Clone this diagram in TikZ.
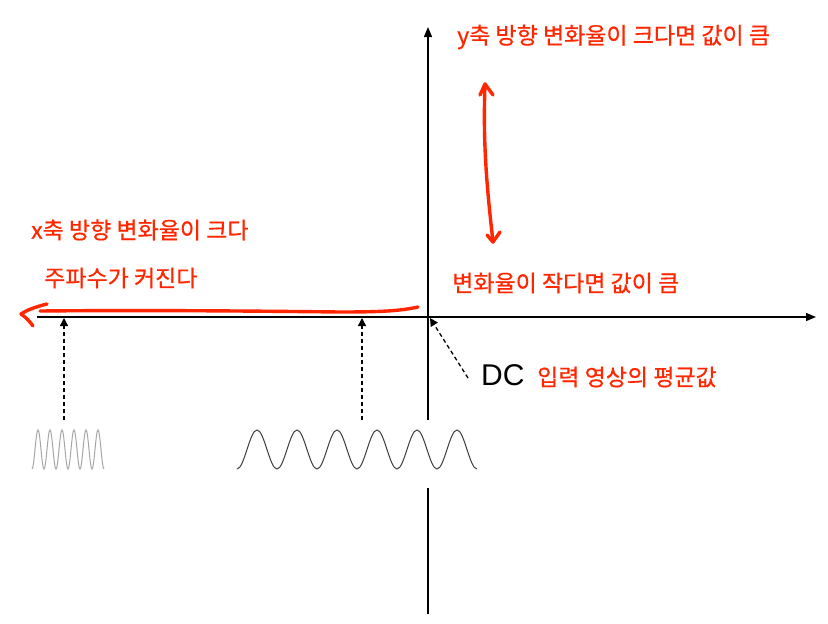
\documentclass[tikz,border=0pt]{standalone}
\usepackage{fontspec}
\newfontfamily\kr[FakeBold=0.6]{Noto Sans CJK KR}
\newfontfamily\dcfont{Liberation Sans}
\usetikzlibrary{arrows.meta}
\definecolor{hand}{RGB}{255,38,0}
\tikzset{
  lbl/.style={font=\kr\fontsize{23}{26}\selectfont, text=hand, inner sep=0pt, anchor=west},
  axis/.style={line width=1.4pt, black},
  axisarrow/.style={-{Triangle[length=10pt,width=8pt]}},
  dasharrow/.style={line width=1.3pt, dash pattern=on 4pt off 3pt, -{Triangle[length=8pt,width=8pt]}},
  redstroke/.style={line width=3.4pt, hand, line cap=round, line join=round},
  wave/.style={line width=1pt}
}
\begin{document}
\begin{tikzpicture}[x=1pt,y=-1pt]
\useasboundingbox (0,0) rectangle (828,624);
\fill[white] (0,0) rectangle (828,624);
% coordinates
\coordinate (O) at (428,317);
\coordinate (xstart) at (37,317);
\coordinate (xend) at (816,317);
\coordinate (ybot) at (428,614);
\coordinate (ygapb) at (428,488);
\coordinate (ygapt) at (428,420);
\coordinate (ytop) at (428,27);
% axes
\draw[axis] (xstart) -- (O);
\draw[axis,axisarrow] (O) -- (xend);
\draw[axis] (ybot) -- (ygapb);
\draw[axis,axisarrow] (ygapt) -- (ytop);
% waves
\coordinate (w1) at (32,469);
\coordinate (w2) at (237,469);
\draw[wave, black!35] (w1) \foreach \i in {1,...,6} { cos ++(3,-19.5) sin ++(3,-19.5) cos ++(3,19.5) sin ++(3,19.5) };
\draw[wave, black!75] (w2) \foreach \i in {1,...,6} { cos ++(10,-19.5) sin ++(10,-19.5) cos ++(10,19.5) sin ++(10,19.5) };
% dashed arrows
\coordinate (a1s) at (64,420);
\coordinate (a1e) at (64,318);
\coordinate (a2s) at (362,420);
\coordinate (a2e) at (362,318);
\coordinate (dcs) at (468,378);
\coordinate (dce) at (430,318);
\draw[dasharrow] (a1s) -- (a1e);
\draw[dasharrow] (a2s) -- (a2e);
\draw[dasharrow] (dcs) -- (dce);
% red hand-drawn strokes
\coordinate (rl0) at (40,311);
\coordinate (rltip) at (21,314);
\coordinate (rlend) at (418,307);
\draw[redstroke] (rlend) .. controls (400,311) and (380,312) .. (340,312)
   .. controls (250,311) and (150,310) .. (rl0);
\draw[redstroke] (47,304) .. controls (35,307) and (27,310) .. (rltip) .. controls (27,318) and (30,322) .. (33,326);
\coordinate (vt) at (485,84);
\coordinate (vb) at (493,242);
\draw[redstroke] (vt) .. controls (483,140) and (486,180) .. (vb);
\draw[redstroke] (480,95) -- (vt) -- (493,95);
\draw[redstroke] (487,235) -- (vb) -- (500,232);
% labels
\node[lbl] (t1) at (457,37) {y축 방향 변화율이 크다면 값이 큼};
\node[lbl] (t2) at (31,230) {x축 방향 변화율이 크다};
\node[lbl] (t3) at (44,278) {주파수가 커진다};
\node[lbl] (t4) at (452,283) {변화율이 작다면 값이 큼};
\node[inner sep=0pt, anchor=west, font=\dcfont\fontsize{30}{34}\selectfont] (dc) at (481,375) {DC};
\node[lbl] (t5) at (537,377) {입력 영상의 평균값};
\end{tikzpicture}
\end{document}
